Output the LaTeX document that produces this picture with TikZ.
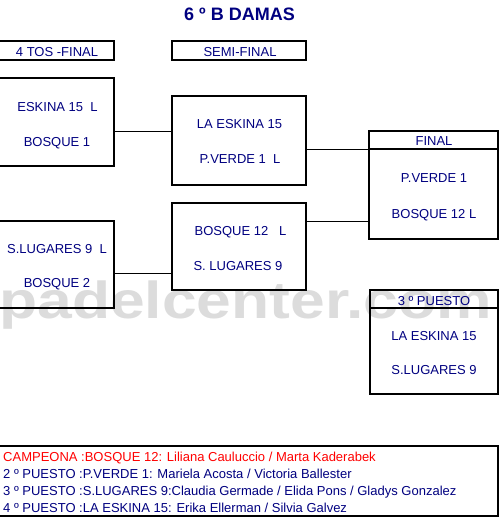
\documentclass[tikz,border=0pt]{standalone}
\usepackage{fontspec}
\setmainfont{Liberation Sans}
\definecolor{txt}{RGB}{0,0,128}
\definecolor{wmgray}{RGB}{220,220,220}
\definecolor{champ}{RGB}{255,0,0}
\begin{document}
\begin{tikzpicture}[x=1pt,y=-1pt,
  box/.style={draw, line width=2pt, inner sep=0pt, outer sep=0pt},
  lbl/.style={text=txt, font=\fontsize{13}{13}\selectfont, anchor=base, inner sep=0pt},
  res/.style={font=\fontsize{13}{13}\selectfont, anchor=base west, inner sep=0pt},
  conn/.style={line width=1pt},
  divider/.style={line width=2pt}]
\useasboundingbox (0,0) rectangle (499,517);
\fill[white] (0,0) rectangle (499,517);
% watermark
\node[text=wmgray, font=\fontsize{52}{52}\selectfont\bfseries, anchor=base west, inner sep=0pt, xscale=1.2] (wm) at (-1,318) {padelcenter.com};
% title
\node[text=txt, font=\fontsize{18}{18}\selectfont\bfseries, anchor=base, inner sep=0pt] (title) at (239.5,20) {6 º B DAMAS};
% headers
\node[box, minimum width=115, minimum height=19] (h1) at (56.5,50.5) {};
\node[lbl] (h1t) at (57,56) {4 TOS -FINAL};
\node[box, minimum width=134, minimum height=19] (h2) at (239,50.5) {};
\node[lbl] (h2t) at (240,56) {SEMI-FINAL};
% quarter boxes
\node[box, minimum width=115, minimum height=88] (q1) at (56.5,122) {};
\node[lbl] (q1a) at (57.5,111) {ESKINA 15\ \ L};
\node[lbl] (q1b) at (57,146) {BOSQUE 1};
\node[box, minimum width=115, minimum height=87] (q2) at (56.5,264.5) {};
\node[lbl] (q2a) at (57,253) {S.LUGARES 9\ \ L};
\node[lbl] (q2b) at (57,287) {BOSQUE 2};
% semi boxes
\node[box, minimum width=134, minimum height=89] (s1) at (239,140.5) {};
\node[lbl] (s1a) at (239.5,128) {LA ESKINA 15};
\node[lbl] (s1b) at (240,163) {P.VERDE 1\ \ L};
\node[box, minimum width=134, minimum height=87] (s2) at (239,246.5) {};
\node[lbl] (s2a) at (240.5,235) {BOSQUE 12\ \ \ L};
\node[lbl] (s2b) at (238,270) {S. LUGARES 9};
% final
\node[box, minimum width=129, minimum height=108] (fin) at (433.5,185) {};
\coordinate (fd) at (0,149);
\draw[divider] (fin.west |- fd) -- (fin.east |- fd);
\node[lbl] (fint) at (434,145) {FINAL};
\node[lbl] (fina) at (434,182) {P.VERDE 1};
\node[lbl] (finb) at (434,218) {BOSQUE 12 L};
% third place
\node[box, minimum width=128, minimum height=104] (tp) at (434,342) {};
\coordinate (td) at (0,308);
\draw[divider] (tp.west |- td) -- (tp.east |- td);
\node[lbl] (tpt) at (434,305) {3 º PUESTO};
\node[lbl] (tpa) at (434,340) {LA ESKINA 15};
\node[lbl] (tpb) at (434,374) {S.LUGARES 9};
% connectors
\coordinate (j1) at (0,131);
\coordinate (j2) at (0,273);
\coordinate (j3) at (0,149);
\coordinate (j4) at (0,221);
\draw[conn] (q1.east |- j1) -- (s1.west |- j1);
\draw[conn] (q2.east |- j2) -- (s2.west |- j2);
\draw[conn] (s1.east |- j3) -- (fin.west |- j3);
\draw[conn] (s2.east |- j4) -- (fin.west |- j4);
% results box
\node[box, minimum width=499, minimum height=70] (rb) at (248.5,481) {};
\node[res, text=champ] (r1) at (3,461) {CAMPEONA :BOSQUE 12: Liliana Cauluccio / Marta Kaderabek};
\node[res, text=txt] (r2) at (3,478) {2 º PUESTO :P.VERDE 1: Mariela Acosta / Victoria Ballester};
\node[res, text=txt] (r3) at (3,495) {3 º PUESTO :S.LUGARES 9:Claudia Germade / Elida Pons / Gladys Gonzalez};
\node[res, text=txt] (r4) at (3,512) {4 º PUESTO :LA ESKINA 15: Erika Ellerman / Silvia Galvez};
\end{tikzpicture}
\end{document}
